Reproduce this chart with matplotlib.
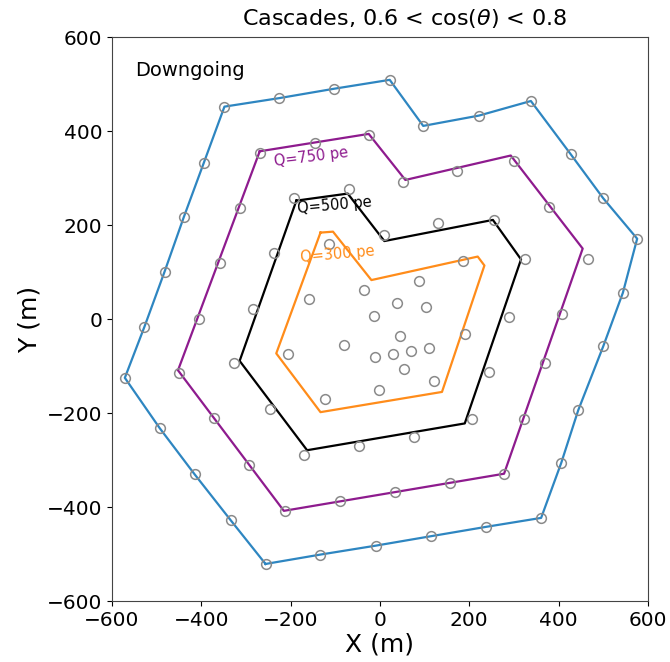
import matplotlib
matplotlib.use("Agg")
import matplotlib.pyplot as plt

# String positions (m)
strings_x = [
    -256, -133, -9, 114, 238, 361, 406, 444, 500, 544, 576, 500, 427, 338,
    222, 97, 22, -103, -226, -348, -394, -439, -482, -527, -571, -493, -415, -334,
    -213, -90, 33, 157, 278, 323, 369, 408, 467, 378, 300, 172, 51, -25, -146,
    -269, -313, -359, -404, -450, -372, -292,
    -169, -46, 77, 207, 244, 288, 325, 255, 130, 10, -69, -193, -238, -283, -327, -247,
    -124, -1, 122, 191, 187, 87, -36, -115, -159, -206,
    39, 104, -13, 44, -81, -12, 29, 70, 111, 54,
]
strings_y = [
    -521, -501, -482, -462, -442, -423, -306, -194, -58, 56, 171, 257, 351, 464,
    433, 411, 509, 490, 470, 452, 333, 217, 101, -16, -125, -232, -330, -428,
    -408, -387, -368, -348, -329, -212, -93, 11, 127, 238, 336, 314, 291, 392, 374,
    353, 236, 120, 1, -114, -211, -310,
    -289, -270, -251, -212, -113, 4, 127, 211, 204, 178, 277, 257, 141, 22, -94, -191,
    -171, -151, -132, -31, 123, 82, 62, 160, 43, -75,
    35, 26, 6, -36, -55, -80, -74, -68, -62, -107,
]

# Detector boundary (outer strings)
edge_x = [-256, -133, -9, 114, 238, 361, 406, 444, 500, 544, 576, 500, 427, 338,
          222, 97, 22, -103, -226, -348, -394, -439, -482, -527, -571, -493, -415,
          -334, -256]
edge_y = [-521, -501, -482, -462, -442, -423, -306, -194, -58, 56, 171, 257, 351,
          464, 433, 411, 509, 490, 470, 452, 333, 217, 101, -16, -125, -232, -330,
          -428, -521]

# Charge containment contours
q750_x = [-269, -25, 57, 293, 454, 278, -215, -452, -269]
q750_y = [357, 394, 296, 348, 150, -329, -408, -109, 357]
q500_x = [-187, -72, 10, 253, 316, 190, -163, -314, -187]
q500_y = [252, 267, 166, 211, 127, -222, -279, -89, 252]
q300_x = [-133, -105, -19, 219, 234, 139, -133, -232, -133]
q300_y = [184, 186, 83, 133, 114, -155, -198, -73, 184]

fig = plt.figure(figsize=(6.7, 6.62), dpi=100)
ax = fig.add_axes([0.167, 0.092, 0.8, 0.852])

ax.plot(edge_x, edge_y, color="#2e86c1", lw=1.6, zorder=2)
ax.plot(q750_x, q750_y, color="#8e1b8e", lw=1.6, zorder=2)
ax.plot(q500_x, q500_y, color="black", lw=1.6, zorder=2)
ax.plot(q300_x, q300_y, color="#ff8c1a", lw=1.6, zorder=2)

ax.plot(strings_x, strings_y, linestyle="none", marker="o", markersize=7,
        markerfacecolor="none", markeredgecolor="#8a8a8a", markeredgewidth=1.1,
        zorder=3)

ax.text(-237, 336, "Q=750 pe", color="#8e1b8e", fontsize=10.5, rotation=7,
        ha="left", va="center", rotation_mode="anchor")
ax.text(-184, 236, "Q=500 pe", color="black", fontsize=10.5, rotation=5,
        ha="left", va="center", rotation_mode="anchor")
ax.text(-179, 132, "Q=300 pe", color="#ff8c1a", fontsize=10.5, rotation=5,
        ha="left", va="center", rotation_mode="anchor")

ax.text(-549, 528, "Downgoing", fontsize=14, ha="left", va="center")

ax.set_xlim(-600, 600)
ax.set_ylim(-600, 600)
ax.set_xticks(range(-600, 601, 200))
ax.set_yticks(range(-600, 601, 200))
ax.tick_params(labelsize=14.5)
ax.set_xlabel("X (m)", fontsize=18, labelpad=2)
ax.set_ylabel("Y (m)", fontsize=18)
fig.text(0.604, 0.972, r"Cascades, 0.6 < cos($\theta$) < 0.8", fontsize=16,
         ha="center", va="center")
for s in ax.spines.values():
    s.set_color("#444444")

fig.savefig("out.png", dpi=100)
